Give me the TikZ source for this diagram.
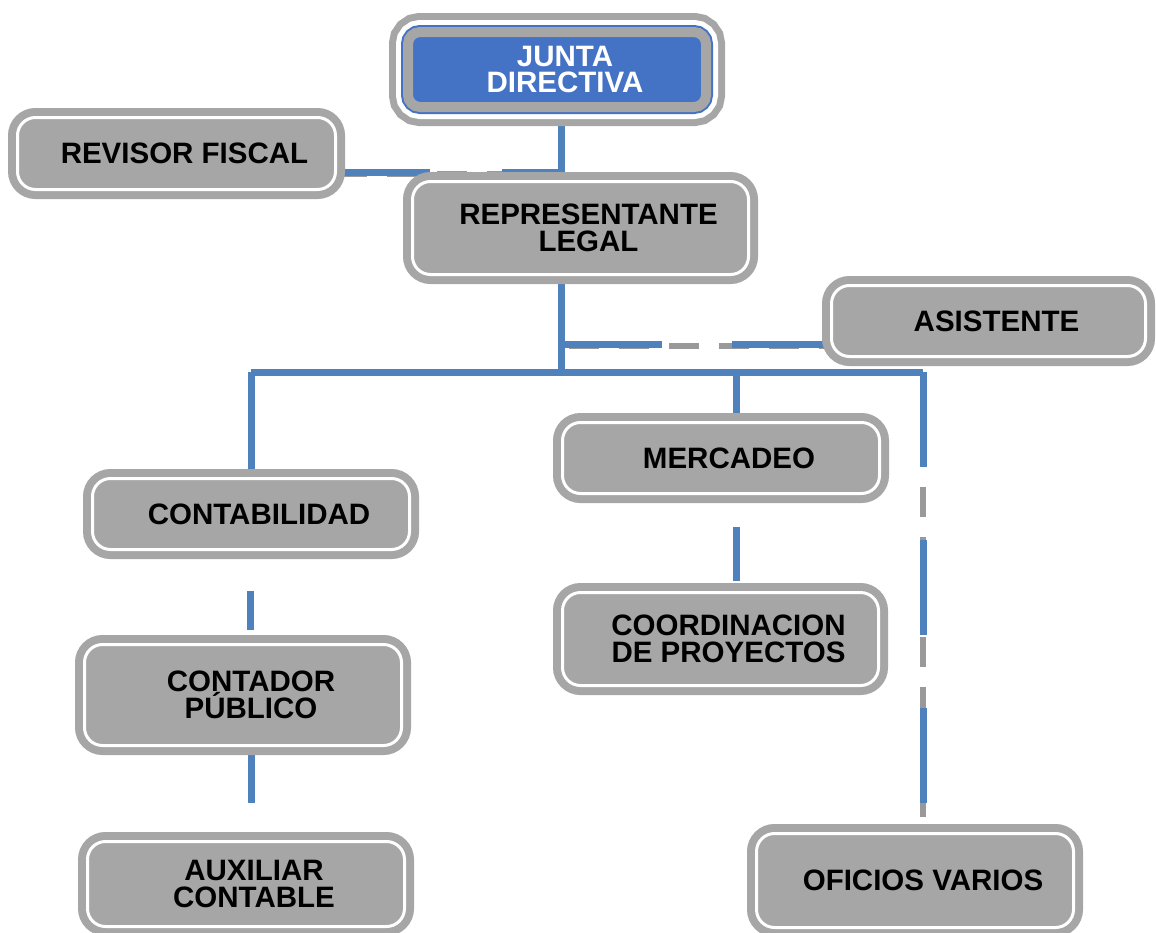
\documentclass[tikz,border=0pt]{standalone}
\usepackage{fontspec}
\setmainfont{Liberation Sans}
\usetikzlibrary{backgrounds}
\definecolor{boxgray}{HTML}{A6A6A6}
\definecolor{boxblue}{HTML}{4472C4}
\definecolor{linkblue}{HTML}{4F81BD}
\definecolor{dashgray}{HTML}{999999}
\newcommand\sh{\hspace*{16pt}}
\begin{document}
\begin{tikzpicture}[x=1pt,y=1pt]
    \useasboundingbox (0,0) rectangle (1156,-932);
    \clip (0,0) rectangle (1156,-932);
    \tikzstyle{cargo}=[rounded corners=18pt,preaction={draw=boxgray,line width=19pt},fill=boxgray,draw=white,line width=3pt,align=center,inner sep=0pt,font=\bfseries\fontsize{29.5}{26.5}\selectfont]
    \tikzstyle{jefe}=[cargo,rounded corners=12pt,preaction={draw=boxgray,line width=38pt},preaction={draw=white,line width=24pt},preaction={draw=boxblue,line width=14pt},fill=boxblue,draw=boxgray,line width=10pt,text=white]
    \tikzstyle{link}=[draw=linkblue,line width=7pt]
    \tikzstyle{hueco}=[draw=dashgray,line width=6pt,dash pattern=on 30pt off 20pt]

      \node (junta) at (557,-69.5) [jefe,minimum width=298pt,minimum height=75pt] {\sh JUNTA\\\sh DIRECTIVA};
      \node (revisor) at (176.5,-153.5) [cargo,minimum width=318pt,minimum height=72pt] {\sh REVISOR FISCAL};
      \node (repre) at (580.5,-228) [cargo,minimum width=336pt,minimum height=93pt] {\sh REPRESENTANTE\\\sh LEGAL};
      \node (asist) at (988.5,-321) [cargo,minimum width=314pt,minimum height=71pt] {\sh ASISTENTE};
      \node (merca) at (721,-458) [cargo,minimum width=317pt,minimum height=71pt] {\sh MERCADEO};
      \node (conta) at (251,-514) [cargo,minimum width=317pt,minimum height=71pt] {\sh CONTABILIDAD};
      \node (coord) at (720.5,-639) [cargo,minimum width=316pt,minimum height=93pt] {\sh COORDINACION\\\sh DE PROYECTOS};
      \node (contador) at (243,-695) [cargo,minimum width=317pt,minimum height=101pt] {\sh CONTADOR\\\sh PÚBLICO};
      \node (auxiliar) at (246,-884) [cargo,minimum width=317pt,minimum height=85pt] {\sh AUXILIAR\\\sh CONTABLE};
      \node (oficios) at (915,-880.5) [cargo,minimum width=317pt,minimum height=94pt] {\sh OFICIOS VARIOS};

      \begin{scope}[on background layer]
      % junta -> revisor
      \coordinate (jr) at (561,-172);
      \path[hueco] ([yshift=-2pt]revisor.east |- jr) -- ([yshift=-2pt]jr);
      \path[link] ([xshift=4pt]junta.south) -- (jr) -- ++(-59,0);
      \path[link] (revisor.east |- jr) -- ++(93,0);
      % repre -> bus
      \coordinate (bus) at (561,-372);
      \coordinate (busL) at (251,-372);
      \coordinate (busR) at (923,-372);
      \path[link] ([xshift=-19.5pt]repre.south) -- (bus);
      \path[link] (busL) -- (busR);
      % asistente
      \coordinate (ra) at (561,-344);
      \path[hueco,dash phase=42pt] ([yshift=-2pt]ra) -- ([yshift=-2pt]asist.west |- ra);
      \path[link] (ra) -- ++(101,0);
      \path[link] (asist.west |- ra) -- ++(-98.5,0);
      % areas
      \path[link] (busL) -- (conta.north);
      \coordinate (mt) at ([xshift=15pt]merca.north);
      \path[link] (mt |- busR) -- (mt);
      \coordinate (ct) at ([xshift=15.5pt]coord.north);
      \path[link] (ct) ++(0,10) -- ++(0,54);
      \coordinate (kt) at ([xshift=7pt]contador.north);
      \path[link] (kt) ++(0,13) -- ++(0,39);
      \coordinate (kb) at ([xshift=8pt]contador.south);
      \path[link] (kb) -- ++(0,-56);
      % oficios varios
      \coordinate (ot) at ([xshift=8pt]oficios.north);
      \path[hueco,dash phase=35pt] (busR) -- (ot);
      \path[link] (busR) -- ++(0,-95);
      \path[link] (busR) ++(0,-168) -- ++(0,-95);
      \path[link] (busR) ++(0,-336) -- ++(0,-95);
      \end{scope}
  \end{tikzpicture}
\end{document}
